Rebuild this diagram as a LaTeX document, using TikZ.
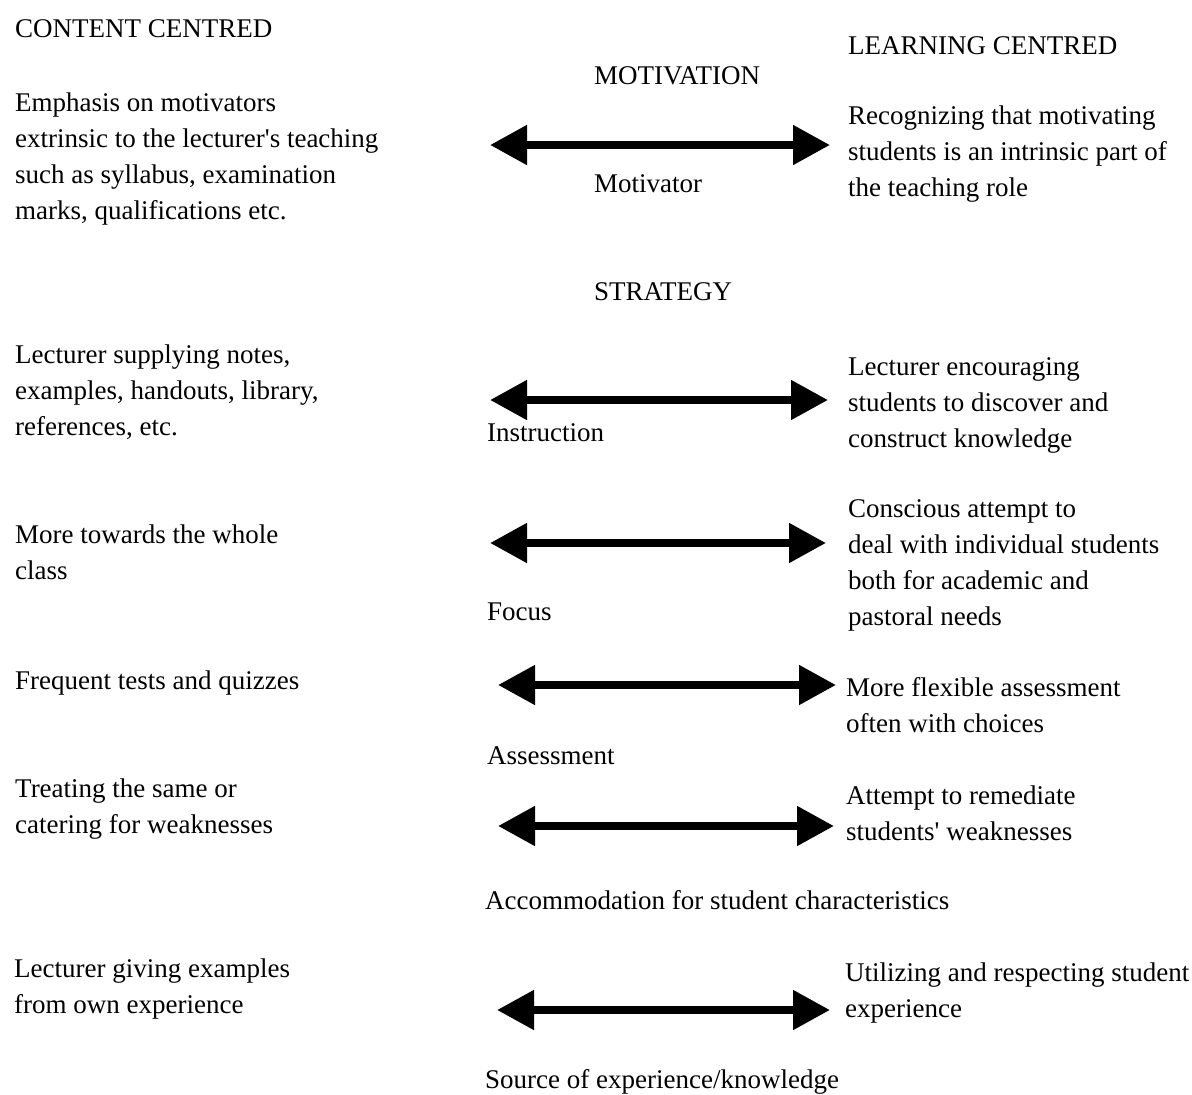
\documentclass[tikz,border=0pt]{standalone}
\usepackage{fontspec}
\setmainfont{Liberation Serif}[Ligatures=TeXOff]
\usetikzlibrary{arrows.meta}
\begin{document}
\begin{tikzpicture}[x=1pt,y=-1pt,
  txt/.style={anchor=base west,inner sep=0pt,align=left,font=\fontsize{27}{36}\selectfont},
  dbl/.style={line width=8pt,{Triangle[length=37pt,width=38pt]}-{Triangle[length=37pt,width=38pt]}}]
\useasboundingbox (0,0) rectangle (1192,1095);
% headings (multi-line nodes are placed by the baseline of their last line)
\node[txt] (cc) at (15,37) {CONTENT CENTRED};
\node[txt] (lc) at (848,54) {LEARNING CENTRED};
\node[txt] (mot) at (594,84) {MOTIVATION};
\node[txt] (str) at (594,300) {STRATEGY};
% row 1
\node[txt] (l1) at (15,219) {Emphasis on motivators\\extrinsic to the lecturer's teaching\\such as syllabus, examination\\marks, qualifications etc.};
\node[txt] (r1) at (848,196) {Recognizing that motivating\\students is an intrinsic part of\\the teaching role};
\node[txt] (c1) at (594,192) {Motivator};
\coordinate (a1) at (490,145); \coordinate (b1) at (830,145);
\draw[dbl] (a1) -- (b1);
% row 2
\node[txt] (l2) at (15,435) {Lecturer supplying notes,\\examples, handouts, library,\\references, etc.};
\node[txt] (r2) at (848,447) {Lecturer encouraging\\students to discover and\\construct knowledge};
\node[txt] (c2) at (487,441) {Instruction};
\coordinate (a2) at (490,400); \coordinate (b2) at (828,400);
\draw[dbl] (a2) -- (b2);
% row 3
\node[txt] (l3) at (15,579) {More towards the whole\\class};
\node[txt] (r3) at (848,625) {Conscious attempt to\\deal with individual students\\both for academic and\\pastoral needs};
\node[txt] (c3) at (487,620) {Focus};
\coordinate (a3) at (490,543); \coordinate (b3) at (826,543);
\draw[dbl] (a3) -- (b3);
% row 4
\node[txt] (l4) at (15,689) {Frequent tests and quizzes};
\node[txt] (r4) at (846,732) {More flexible assessment\\often with choices};
\node[txt] (c4) at (487,764) {Assessment};
\coordinate (a4) at (498,685); \coordinate (b4) at (836,685);
\draw[dbl] (a4) -- (b4);
% row 5
\node[txt] (l5) at (15,833) {Treating the same or\\catering for weaknesses};
\node[txt] (r5) at (846,840) {Attempt to remediate\\students' weaknesses};
\node[txt] (c5) at (485,909) {Accommodation for student characteristics};
\coordinate (a5) at (498,826); \coordinate (b5) at (834,826);
\draw[dbl] (a5) -- (b5);
% row 6
\node[txt] (l6) at (14,1013) {Lecturer giving examples\\from own experience};
\node[txt] (r6) at (845,1017) {Utilizing and respecting student\\experience};
\node[txt] (c6) at (485,1088) {Source of experience/knowledge};
\coordinate (a6) at (497,1010); \coordinate (b6) at (830,1010);
\draw[dbl] (a6) -- (b6);
\end{tikzpicture}
\end{document}
